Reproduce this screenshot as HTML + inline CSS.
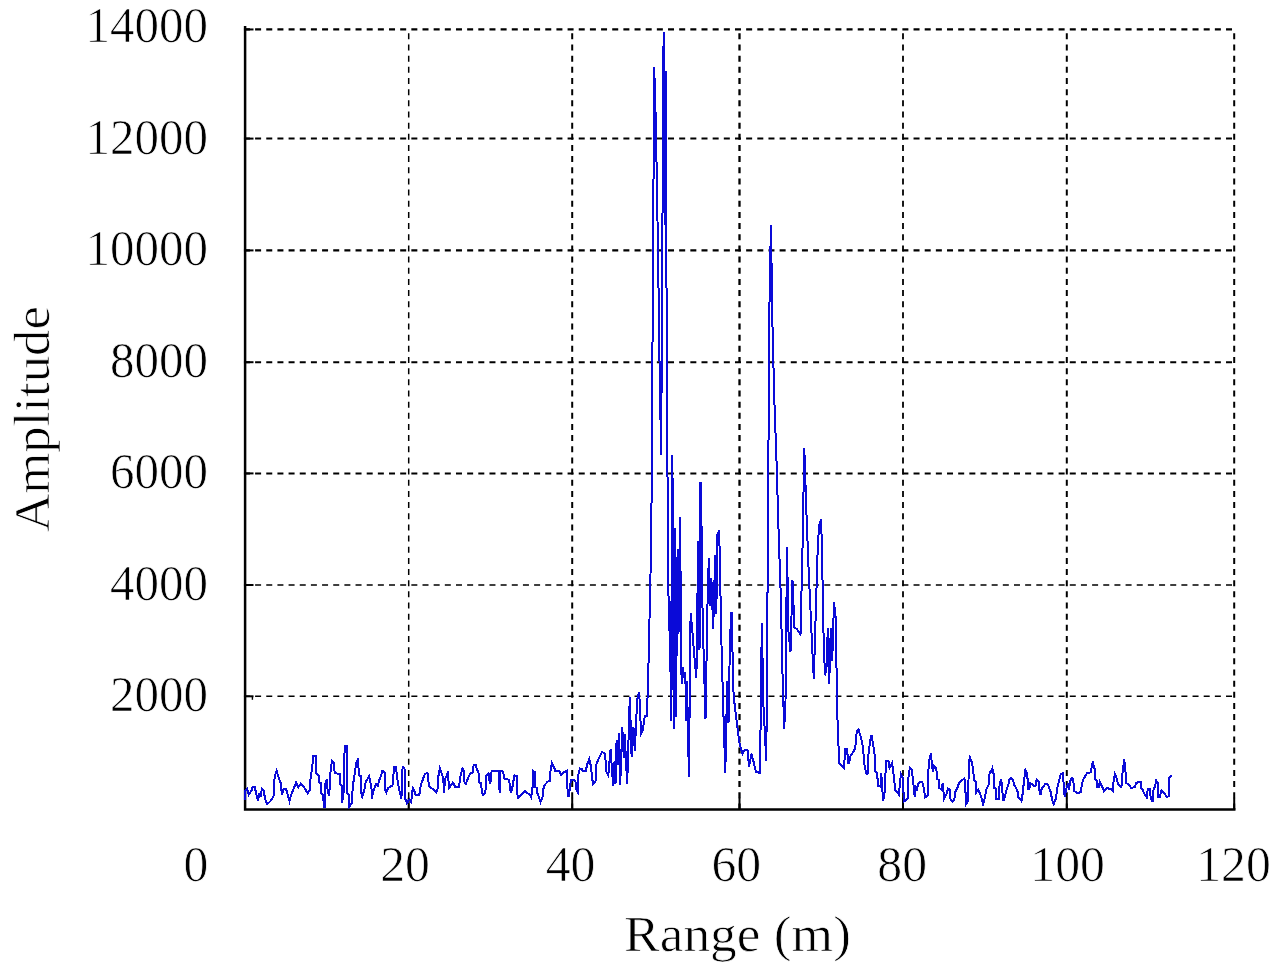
<!DOCTYPE html>
<html><head><meta charset="utf-8"><style>
html,body{margin:0;padding:0;background:#fff;width:1280px;height:965px;overflow:hidden}
svg{position:absolute;left:0;top:0}
.g{stroke:#000;stroke-width:2;stroke-dasharray:6 5.16;fill:none}
.t{stroke:#000;stroke-width:2;fill:none}
.ax{stroke:#000;stroke-width:2.5;fill:none;stroke-linejoin:miter}
.data{stroke:#0a0ad8;stroke-width:2;fill:none;stroke-linejoin:miter;shape-rendering:crispEdges}
.lbl{font-family:"Liberation Serif",serif;font-size:49px;fill:#000;stroke:#fff;stroke-width:0.7px}
</style></head><body>
<svg width="1280" height="965" viewBox="0 0 1280 965">
<line x1="408.7" y1="809.4" x2="408.7" y2="29.45" class="g" style="stroke-width:1.5"/>
<line x1="572.2" y1="809.4" x2="572.2" y2="29.45" class="g" style="stroke-width:2.0"/>
<line x1="739.5" y1="809.4" x2="739.5" y2="29.45" class="g" style="stroke-width:2.3"/>
<line x1="903.0" y1="809.4" x2="903.0" y2="29.45" class="g" style="stroke-width:1.8"/>
<line x1="1066.8" y1="809.4" x2="1066.8" y2="29.45" class="g" style="stroke-width:2.0"/>
<line x1="1234.2" y1="809.4" x2="1234.2" y2="29.45" class="g" style="stroke-width:2.0"/>
<line x1="243.94" y1="696.3" x2="1235.5" y2="696.3" class="g" style="stroke-width:1.5"/>
<line x1="243.94" y1="585.0" x2="1235.5" y2="585.0" class="g" style="stroke-width:1.7"/>
<line x1="243.94" y1="473.4" x2="1235.5" y2="473.4" class="g" style="stroke-width:2.0"/>
<line x1="243.94" y1="362.2" x2="1235.5" y2="362.2" class="g" style="stroke-width:2.0"/>
<line x1="243.94" y1="250.4" x2="1235.5" y2="250.4" class="g" style="stroke-width:2.1"/>
<line x1="243.94" y1="138.6" x2="1235.5" y2="138.6" class="g" style="stroke-width:2.0"/>
<line x1="243.94" y1="29.45" x2="1235.5" y2="29.45" class="g" style="stroke-width:2.2"/>
<line x1="408.7" y1="809.4" x2="408.7" y2="797.8" class="t"/>
<line x1="572.2" y1="809.4" x2="572.2" y2="797.8" class="t"/>
<line x1="739.5" y1="809.4" x2="739.5" y2="797.8" class="t"/>
<line x1="903.0" y1="809.4" x2="903.0" y2="797.8" class="t"/>
<line x1="1066.8" y1="809.4" x2="1066.8" y2="797.8" class="t"/>
<line x1="1234.2" y1="809.4" x2="1234.2" y2="797.8" class="t"/>
<line x1="245" y1="696.3" x2="253.5" y2="696.3" class="t"/>
<line x1="245" y1="585.0" x2="253.5" y2="585.0" class="t"/>
<line x1="245" y1="473.4" x2="253.5" y2="473.4" class="t"/>
<line x1="245" y1="362.2" x2="253.5" y2="362.2" class="t"/>
<line x1="245" y1="250.4" x2="253.5" y2="250.4" class="t"/>
<line x1="245" y1="138.6" x2="253.5" y2="138.6" class="t"/>
<line x1="245" y1="29.45" x2="253.5" y2="29.45" class="t"/>
<line x1="252.4" y1="696" x2="252.4" y2="699.8" stroke="#000" stroke-width="1.4"/>
<path d="M245.1 25.9 L245.1 809.4 L1235.5 809.4" class="ax"/>
<path d="M245.2 799.5 L245.2 790.9 L247.1 788.6 L248.7 794.8 L251.4 790.9 L252.5 787.4 L254.9 787.4 L256.4 794.8 L258.0 801.0 L259.5 792.9 L260.7 797.2 L261.9 788.6 L263.8 790.9 L265.0 798.7 L267.3 804.2 L271.2 800.3 L273.5 796.4 L274.7 776.2 L276.6 770.7 L278.2 776.2 L280.5 782.4 L280.9 787.8 L282.1 794.8 L283.6 788.6 L286.0 788.6 L289.5 801.0 L291.4 794.1 L293.7 788.6 L296.1 782.4 L298.4 787.1 L300.7 783.6 L303.8 787.1 L307.8 793.3 L310.1 789.4 L310.1 781.7 L312.1 768.4 L313.2 755.6 L315.9 755.6 L315.9 773.1 L318.7 775.4 L319.1 782.4 L321.0 783.2 L321.4 793.3 L323.3 794.9 L323.7 807.3 L324.9 807.3 L325.3 784.0 L326.8 779.3 L327.2 787.9 L328.8 795.7 L329.9 786.3 L330.3 773.9 L331.9 760.7 L334.2 763.0 L334.6 773.1 L339.7 773.9 L340.4 784.8 L342.0 785.5 L342.0 802.7 L343.5 793.3 L344.7 746.3 L346.7 746.3 L346.7 770.8 L347.4 793.3 L349.0 794.9 L349.4 806.5 L351.7 803.4 L352.9 785.5 L354.8 773.1 L356.4 762.2 L358.3 758.3 L358.7 775.4 L360.7 776.2 L360.7 791.8 L362.2 796.4 L364.5 789.4 L365.7 781.7 L369.2 776.2 L370.0 780.1 L371.5 788.7 L371.5 798.8 L373.9 789.4 L376.2 784.0 L377.8 785.5 L380.0 777.8 L380.4 777.8 L382.4 770.8 L384.7 772.3 L385.1 789.4 L386.3 792.5 L388.2 787.9 L392.5 785.5 L394.1 766.9 L396.0 766.9 L396.8 775.4 L398.3 784.8 L399.9 792.5 L401.4 798.8 L402.6 766.9 L404.5 767.7 L405.3 798.8 L406.9 803.4 L409.2 799.5 L411.2 801.9 L412.7 787.9 L413.9 789.4 L415.4 794.9 L419.3 794.9 L420.9 784.8 L422.4 780.9 L424.8 773.9 L427.5 773.1 L429.0 786.3 L433.3 789.4 L436.4 792.5 L438.0 787.9 L438.4 776.2 L439.9 768.4 L441.5 773.1 L443.4 778.5 L443.8 792.5 L445.4 778.5 L447.7 773.1 L449.3 787.9 L452.8 782.4 L455.0 786.3 L455.1 787.1 L458.9 787.1 L460.5 776.2 L462.4 768.4 L464.0 770.8 L464.4 781.7 L465.9 784.0 L467.9 778.5 L470.2 773.9 L472.6 772.3 L473.7 764.5 L475.7 764.5 L476.8 769.2 L478.4 772.3 L479.5 782.4 L481.1 783.2 L481.9 792.5 L483.0 794.9 L485.4 792.5 L485.8 783.2 L486.5 775.4 L488.5 773.1 L490.0 784.0 L491.2 778.5 L491.6 770.8 L498.6 770.8 L499.0 784.0 L499.8 793.3 L500.5 770.8 L502.9 771.5 L504.4 778.5 L507.5 779.3 L509.1 780.1 L509.9 785.5 L510.7 792.5 L512.2 788.7 L513.0 783.2 L514.5 775.4 L516.9 776.2 L516.9 793.3 L518.4 798.0 L519.6 796.4 L521.5 794.9 L524.7 791.0 L527.8 793.3 L530.0 794.9 L531.2 797.2 L532.4 790.2 L533.2 770.8 L535.1 772.3 L535.1 787.1 L536.7 787.9 L537.4 793.3 L540.6 801.9 L542.5 797.2 L542.9 790.2 L544.8 784.8 L547.6 781.7 L549.9 780.9 L550.3 772.3 L551.8 763.0 L554.2 767.7 L555.3 770.8 L559.2 770.8 L561.2 774.7 L563.5 772.3 L567.0 770.8 L567.4 787.9 L568.5 797.2 L569.7 790.2 L570.9 780.1 L574.0 780.1 L575.5 781.7 L576.7 791.0 L577.9 792.5 L578.3 775.4 L579.8 768.4 L581.8 769.2 L582.5 770.8 L585.7 770.8 L587.2 764.5 L589.2 759.1 L591.1 766.9 L591.9 776.2 L593.0 784.0 L595.0 782.4 L596.2 778.5 L596.2 764.5 L598.9 758.3 L602.0 752.1 L605.0 753.7 L606.5 772.0 L608.3 775.2 L610.6 749.1 L611.8 768.0 L613.2 786.1 L614.6 761.0 L615.5 784.0 L616.6 739.9 L617.6 765.4 L618.8 732.8 L620.2 784.5 L622.3 727.4 L623.8 757.8 L624.6 733.9 L627.2 783.9 L629.8 697.0 L631.6 756.7 L633.5 727.4 L634.8 751.3 L637.2 699.1 L639.2 691.8 L640.4 718.6 L641.0 733.5 L642.9 729.8 L644.8 716.1 L646.6 716.1 L647.9 690.0 L649.5 619.0 L651.3 538.0 L652.4 362.2 L654.2 67.3 L655.9 125.0 L658.0 250.5 L659.8 381.8 L661.2 455.2 L662.0 298.8 L663.6 31.8 L664.6 224.8 L665.6 71.0 L667.1 428.2 L668.8 631.0 L669.8 601.0 L671.0 721.0 L672.4 455.2 L673.7 728.5 L674.8 527.8 L675.9 717.3 L677.6 548.9 L678.5 634.0 L680.0 517.2 L681.6 684.4 L682.8 667.0 L684.0 678.0 L685.3 672.0 L686.2 721.0 L687.0 681.0 L688.9 777.0 L690.6 613.5 L692.2 628.5 L694.2 654.6 L696.4 678.2 L698.2 540.8 L699.5 650.0 L700.5 481.8 L701.7 534.0 L702.6 616.0 L705.5 719.0 L707.6 598.7 L708.8 558.4 L710.3 606.2 L711.4 578.3 L713.2 628.6 L715.2 554.7 L716.3 613.6 L717.5 534.1 L719.2 530.4 L721.5 645.0 L723.3 710.0 L725.3 772.9 L727.2 680.9 L728.5 723.2 L730.0 637.9 L731.5 611.8 L733.6 695.8 L735.5 711.8 L737.5 728.3 L739.5 742.8 L742.5 754.2 L744.5 750.1 L747.5 750.1 L749.0 766.7 L751.5 753.7 L753.5 761.6 L756.0 771.9 L760.0 772.9 L761.8 623.0 L763.5 706.6 L766.3 761.0 L768.0 524.5 L769.3 313.9 L770.9 224.9 L772.7 338.7 L774.6 407.7 L776.5 460.5 L778.4 525.8 L780.8 596.5 L782.4 669.6 L784.2 728.9 L785.5 701.4 L787.0 546.7 L788.5 632.0 L790.5 652.2 L792.5 580.3 L794.5 628.2 L796.5 628.6 L800.5 634.6 L802.5 548.8 L804.3 448.1 L806.5 514.6 L808.6 569.3 L810.5 610.3 L812.1 646.4 L813.8 678.6 L816.0 604.7 L817.8 545.1 L819.2 525.2 L821.2 519.0 L822.8 592.9 L823.8 649.5 L825.2 675.4 L826.5 667.4 L827.8 628.4 L829.2 684.2 L830.8 628.4 L832.2 661.3 L834.0 602.2 L835.6 617.2 L836.6 673.0 L838.0 743.9 L838.4 743.5 L839.4 763.2 L843.9 768.1 L845.3 748.5 L847.3 748.5 L847.8 763.2 L849.3 763.2 L849.8 757.3 L855.2 748.5 L856.7 731.7 L858.6 729.8 L861.1 737.6 L863.1 748.5 L864.5 765.2 L866.5 774.1 L868.0 773.1 L868.0 758.3 L869.9 742.6 L871.4 734.7 L872.9 743.5 L874.9 756.3 L875.4 771.1 L877.3 773.1 L877.8 785.9 L881.3 786.9 L881.3 773.1 L882.2 787.8 L883.2 800.6 L884.7 791.8 L885.2 778.0 L886.2 761.3 L888.6 761.3 L889.6 768.1 L892.1 763.2 L894.1 778.0 L895.0 789.8 L899.0 794.7 L900.0 781.9 L901.1 774.1 L902.9 778.0 L903.9 801.6 L907.8 798.7 L907.8 781.9 L909.8 768.1 L911.8 770.1 L912.8 778.0 L914.7 796.7 L915.4 785.5 L917.0 791.0 L917.8 784.0 L920.1 781.7 L922.4 782.4 L924.0 789.4 L925.2 797.2 L927.9 795.7 L927.9 777.8 L929.1 761.4 L931.0 753.3 L931.8 763.8 L932.9 772.3 L934.1 766.1 L936.4 768.4 L936.8 778.5 L938.8 780.1 L939.2 787.9 L941.1 789.4 L942.7 783.2 L944.2 798.8 L946.2 794.9 L948.1 788.7 L949.7 789.4 L950.4 798.8 L952.4 801.9 L954.3 799.5 L955.1 792.5 L957.4 787.9 L959.0 783.2 L961.3 780.9 L964.4 778.5 L965.2 784.8 L966.0 804.2 L968.3 801.1 L968.7 762.2 L969.9 757.6 L972.2 763.0 L973.0 770.0 L974.5 780.9 L976.1 781.7 L976.1 792.5 L978.4 789.4 L980.8 795.7 L983.1 804.2 L985.0 797.2 L986.2 789.4 L988.5 785.5 L989.7 772.3 L990.8 772.3 L992.4 768.4 L993.9 775.4 L994.3 787.9 L995.9 788.7 L996.3 798.8 L998.6 798.8 L999.0 790.2 L999.8 783.2 L1001.3 779.7 L1002.1 789.4 L1003.3 801.1 L1005.2 795.7 L1006.8 788.7 L1008.3 785.5 L1009.1 780.1 L1011.0 777.8 L1013.0 780.1 L1014.5 785.5 L1016.1 787.9 L1017.7 791.8 L1018.4 797.2 L1021.5 801.1 L1022.7 793.3 L1023.9 781.7 L1025.4 770.0 L1027.4 773.9 L1027.8 789.4 L1029.3 789.4 L1030.1 783.2 L1031.7 784.0 L1033.2 785.5 L1035.5 785.5 L1036.7 779.7 L1039.4 781.7 L1039.4 791.0 L1040.6 794.9 L1041.8 787.9 L1044.1 786.3 L1044.9 784.0 L1046.4 783.6 L1048.0 784.8 L1049.2 787.9 L1051.1 793.3 L1051.9 799.5 L1053.8 804.2 L1055.8 798.8 L1056.5 794.1 L1057.3 787.9 L1059.3 780.1 L1060.8 773.9 L1062.8 773.1 L1064.7 797.2 L1066.2 788.7 L1067.8 784.8 L1068.9 789.4 L1070.9 778.5 L1072.4 777.8 L1074.0 784.8 L1074.4 791.0 L1077.9 793.3 L1081.0 791.8 L1081.8 784.8 L1083.3 779.3 L1085.7 775.4 L1087.2 773.1 L1091.1 772.3 L1091.9 764.5 L1093.0 761.4 L1093.8 767.7 L1095.0 769.2 L1095.4 779.3 L1096.5 780.1 L1096.9 787.1 L1098.9 787.1 L1099.7 781.7 L1101.2 784.8 L1102.4 787.1 L1103.9 791.0 L1106.7 787.9 L1109.0 788.7 L1111.3 789.4 L1112.9 791.0 L1113.3 783.2 L1114.8 773.9 L1116.4 777.8 L1117.9 784.0 L1119.9 786.3 L1121.4 787.1 L1122.6 772.3 L1124.2 759.1 L1125.3 768.4 L1126.1 783.2 L1128.4 784.0 L1131.2 787.9 L1134.7 787.1 L1136.2 783.2 L1138.5 781.7 L1140.0 781.7 L1140.8 781.7 L1141.2 787.9 L1142.8 789.4 L1143.6 792.5 L1145.1 794.9 L1146.7 797.2 L1147.8 788.7 L1149.8 788.7 L1150.6 797.2 L1152.5 801.9 L1153.7 787.9 L1155.2 787.1 L1156.0 779.3 L1157.2 783.2 L1158.3 783.2 L1158.3 797.2 L1159.9 797.2 L1161.4 790.2 L1163.8 792.5 L1166.9 797.2 L1169.2 795.7 L1169.2 777.8 L1171.5 775.4" class="data"/>
<text transform="translate(207.9 42.0) scale(1.0 1.045)" text-anchor="end" class="lbl">14000</text>
<text transform="translate(207.9 154.0) scale(1.0 1.045)" text-anchor="end" class="lbl">12000</text>
<text transform="translate(207.9 264.7) scale(1.0 1.045)" text-anchor="end" class="lbl">10000</text>
<text transform="translate(207.9 376.9) scale(1.0 1.045)" text-anchor="end" class="lbl">8000</text>
<text transform="translate(207.9 487.9) scale(1.0 1.045)" text-anchor="end" class="lbl">6000</text>
<text transform="translate(207.9 599.9) scale(1.0 1.045)" text-anchor="end" class="lbl">4000</text>
<text transform="translate(207.9 710.8) scale(1.0 1.045)" text-anchor="end" class="lbl">2000</text>
<text transform="translate(195.8 880.6) scale(1.015 1.035)" text-anchor="middle" class="lbl">0</text>
<text transform="translate(405.1 880.6) scale(1.015 1.035)" text-anchor="middle" class="lbl">20</text>
<text transform="translate(570.6 880.6) scale(1.015 1.035)" text-anchor="middle" class="lbl">40</text>
<text transform="translate(736.3 880.6) scale(1.015 1.035)" text-anchor="middle" class="lbl">60</text>
<text transform="translate(902.2 880.6) scale(1.015 1.035)" text-anchor="middle" class="lbl">80</text>
<text transform="translate(1067.6 880.6) scale(1.015 1.035)" text-anchor="middle" class="lbl">100</text>
<text transform="translate(1233.5 880.6) scale(1.015 1.035)" text-anchor="middle" class="lbl">120</text>
<text transform="translate(737.5 950.5) scale(1.09 1.04)" text-anchor="middle" class="lbl">Range (m)</text>
<text transform="translate(49.3 419) rotate(-90) scale(1.077 1.02)" x="0" y="0" text-anchor="middle" class="lbl">Amplitude</text>
</svg>
</body></html>
